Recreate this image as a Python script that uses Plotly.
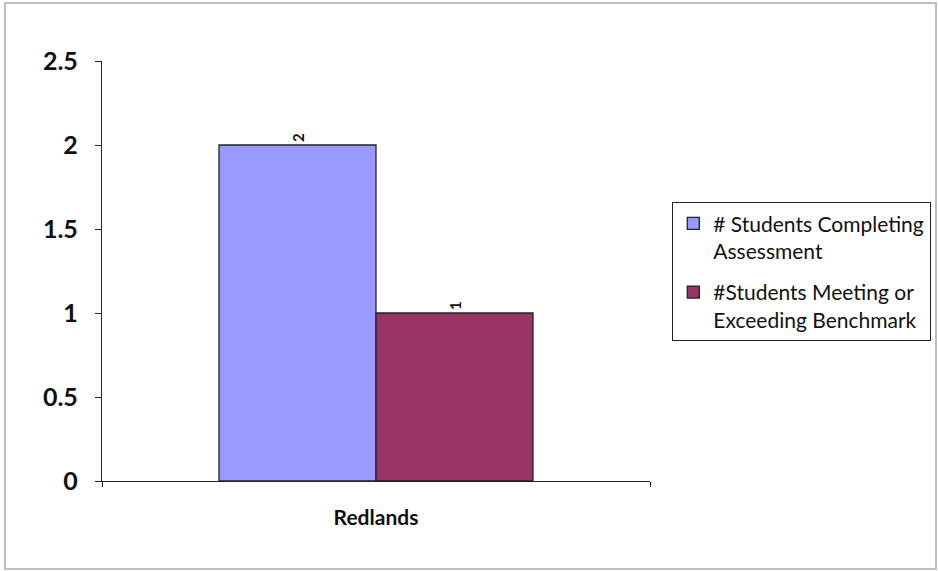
import plotly.graph_objects as go

categories = ["Redlands"]
series_names = ["# Students Completing<br>Assessment", "#Students Meeting or<br>Exceeding Benchmark"]
completing = [2]
meeting = [1]
y_ticks = [0, 0.5, 1, 1.5, 2, 2.5]
y_tick_labels = ["0", "0.5", "1", "1.5", "2", "2.5"]

colors = ["#9999FF", "#993366"]

fig = go.Figure()
for i, (name, vals, col) in enumerate(zip(series_names, [completing, meeting], colors)):
    fig.add_trace(go.Bar(
        x=categories, y=vals, name=name, legendgroup=f"g{i}",
        marker=dict(color=col, line=dict(color="#222222", width=1.3)),
        text=[str(v) for v in vals], textposition="outside", textangle=-90,
        textfont=dict(family="Lato", size=15, color="#111111", weight="bold"),
        constraintext="none", cliponaxis=False,
    ))

fig.update_layout(
    width=938, height=571,
    margin=dict(l=102, r=288, t=61, b=90),
    paper_bgcolor="white", plot_bgcolor="white",
    barmode="group", bargap=0.427, bargroupgap=0,
    showlegend=True,
    legend=dict(
        xref="container", yref="container",
        x=672 / 938, y=1 - 202 / 571, xanchor="left", yanchor="top",
        bordercolor="#222222", borderwidth=1.3, bgcolor="white",
        font=dict(family="Lato", size=21, color="#111111"),
        traceorder="grouped", tracegroupgap=11, itemwidth=30, valign="top",
    ),
    xaxis=dict(
        showline=True, linecolor="#222222", linewidth=1.3,
        ticks="outside", tickson="boundaries", ticklen=5, tickcolor="#222222",
        tickfont=dict(family="Lato", size=21, color="#111111", weight="bold"),
        ticklabelstandoff=18, showgrid=False,
    ),
    yaxis=dict(
        range=[0, 2.5], tickvals=y_ticks, ticktext=y_tick_labels,
        showline=True, linecolor="#222222", linewidth=1.3,
        ticks="outside", ticklen=6, tickcolor="#222222",
        tickfont=dict(family="Lato", size=25, color="#111111", weight="bold"),
        ticklabelstandoff=12, showgrid=False, zeroline=False,
    ),
    shapes=[dict(
        type="rect", xref="paper", yref="paper",
        x0=(5 - 102) / 548, x1=(936 - 102) / 548,
        y0=(481 - 569) / 420, y1=(481 - 3) / 420,
        line=dict(color="#BFBFBF", width=2), fillcolor="rgba(0,0,0,0)", layer="below",
    )],
)

fig.write_html(
    "out.html",
    config={"displayModeBar": False},
    post_script="document.body.style.margin='0';document.body.style.overflow='hidden';",
)
